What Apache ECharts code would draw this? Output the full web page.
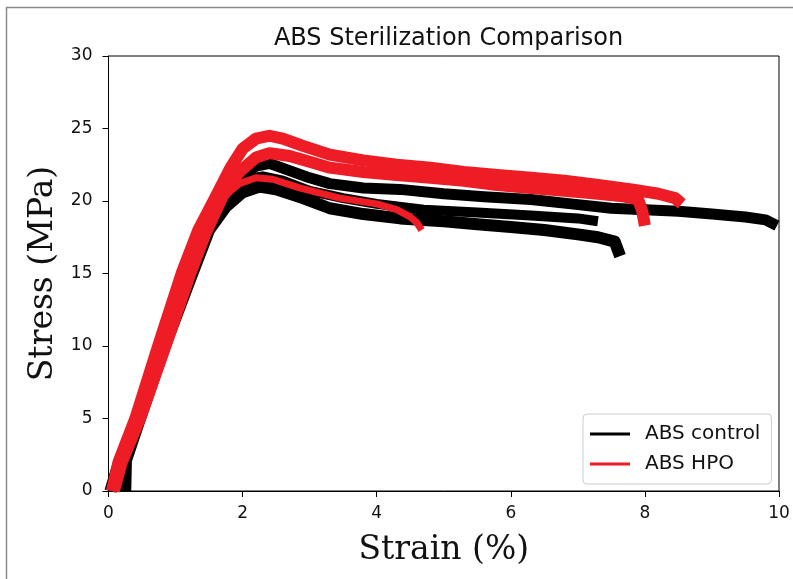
<!DOCTYPE html>
<html>
<head>
<meta charset="utf-8">
<script src="https://cdn.jsdelivr.net/npm/echarts@6/dist/echarts.min.js"></script>
<style>
html,body{margin:0;padding:0;background:#fff;}
#chart{width:793px;height:579px;}
</style>
</head>
<body>
<div id="chart"></div>
<script>
// Axis ticks
const xTicks = [0, 2, 4, 6, 8, 10];
const yTicks = [0, 5, 10, 15, 20, 25, 30];

// ABS control specimens: [strain %, stress MPa]
const controlA = [[0.02,0],[0.15,2],[0.43,5],[0.78,10],[1.2,15],[1.45,17.8],[1.7,20.0],[1.95,21.6],[2.2,22.4],[2.4,22.6],[2.7,22.1],[3.0,21.6],[3.3,21.2],[3.8,20.9],[4.35,20.8],[5.0,20.5],[5.6,20.3],[6.3,20.1],[6.9,19.8],[7.5,19.5],[8.0,19.4],[8.5,19.3],[9.0,19.1],[9.5,18.9],[9.8,18.7],[9.97,18.3]];
const controlB = [[0.25,0],[0.26,2.1],[0.47,5],[0.84,10],[1.25,15],[1.5,18.0],[1.75,19.6],[2.0,20.6],[2.25,21.0],[2.5,20.8],[2.9,20.2],[3.3,19.5],[3.8,19.1],[4.35,18.8],[5.0,18.6],[5.5,18.4],[6.0,18.2],[6.5,18.0],[7.0,17.7],[7.3,17.5],[7.55,17.2],[7.63,16.2]];
const controlC = [[0.05,0],[0.2,2],[0.44,5],[0.8,10],[1.22,15],[1.5,18.2],[1.8,20.6],[2.05,21.5],[2.3,21.7],[2.6,21.4],[3.0,20.7],[3.5,20.2],[4.0,19.8],[4.7,19.4],[5.5,19.2],[6.3,19.0],[7.0,18.8],[7.3,18.6]];

// ABS HPO specimens
const hpoA = [[0.05,0],[0.15,2],[0.40,5],[0.74,10],[1.09,15],[1.34,18],[1.6,20.3],[1.82,22.3],[2.0,23.6],[2.2,24.3],[2.4,24.5],[2.6,24.3],[2.9,23.8],[3.3,23.2],[3.8,22.8],[4.3,22.5],[4.8,22.3],[5.3,22.0],[5.8,21.8],[6.3,21.6],[6.8,21.4],[7.3,21.1],[7.8,20.8],[8.2,20.5],[8.45,20.2],[8.55,19.8]];
const hpoB = [[0.08,0],[0.2,2],[0.47,5],[0.85,10],[1.22,15],[1.45,17.8],[1.7,20.3],[1.95,22.0],[2.2,23.0],[2.4,23.3],[2.7,23.1],[3.0,22.7],[3.3,22.3],[3.8,22.0],[4.3,21.8],[4.8,21.6],[5.3,21.4],[5.8,21.1],[6.3,20.9],[6.8,20.7],[7.3,20.5],[7.7,20.3],[7.9,20.1],[7.96,19.3],[8.0,18.3]];
const hpoC = [[0.05,0],[0.18,2],[0.44,5],[0.8,10],[1.17,15],[1.45,18.2],[1.7,20.2],[1.95,21.2],[2.2,21.6],[2.45,21.5],[2.85,20.9],[3.45,20.2],[4.0,19.8],[4.3,19.4],[4.5,18.9],[4.6,18.5],[4.67,18.0]];

const BLACK = '#000000';
const RED = '#ee1c24';
const sans = 'DejaVu Sans';
const serif = 'DejaVu Serif';

function mk(name, data, color, width) {
  return {
    name: name, type: 'line', data: data, symbol: 'none', showSymbol: false,
    clip: true, animation: false, silent: true,
    lineStyle: { color: color, width: width, join: 'round' },
    itemStyle: { color: color }
  };
}

const chart = echarts.init(document.getElementById('chart'), null, { renderer: 'canvas' });
chart.setOption({
  animation: false,
  backgroundColor: '#ffffff',
  title: {
    text: 'ABS Sterilization Comparison',
    left: 443.5, top: 22, textAlign: 'center',
    textStyle: { fontFamily: sans, fontSize: 24, fontWeight: 'normal', color: '#111' }
  },
  grid: { left: 108.5, right: 14, top: 56, bottom: 88, show: true, borderColor: '#000', borderWidth: 1, backgroundColor: 'transparent' },
  legend: {
    data: [
      { name: 'ABS control', icon: 'rect', itemStyle: { color: BLACK } },
      { name: 'ABS HPO', icon: 'rect', itemStyle: { color: RED } }
    ],
    orient: 'vertical', left: 583, top: 414,
    itemWidth: 40, itemHeight: 3, itemGap: 10,
    padding: [10, 11, 10, 7],
    backgroundColor: '#ffffff', borderColor: '#cccccc', borderWidth: 1, borderRadius: 4,
    textStyle: { fontFamily: sans, fontSize: 20, color: '#111', padding: [0, 0, 0, 10] }
  },
  xAxis: {
    type: 'value', min: 0, max: 10, interval: 2,
    name: 'Strain (%)', nameLocation: 'middle', nameGap: 43,
    nameTextStyle: { fontFamily: serif, fontSize: 33, color: '#111' },
    axisLine: { show: true, lineStyle: { color: '#000', width: 1 } },
    axisTick: { show: true, inside: false, length: 6, lineStyle: { color: '#000' } },
    axisLabel: { fontFamily: sans, fontSize: 17, color: '#111', margin: 14,
      formatter: function (v) { return xTicks.indexOf(v) >= 0 ? String(v) : ''; } },
    splitLine: { show: false }
  },
  yAxis: {
    type: 'value', min: 0, max: 30, interval: 5,
    name: 'Stress (MPa)', nameLocation: 'middle', nameGap: 49, nameRotate: 90,
    nameTextStyle: { fontFamily: serif, fontSize: 33, color: '#111' },
    axisLine: { show: true, lineStyle: { color: '#000', width: 1 } },
    axisTick: { show: true, inside: false, length: 6, lineStyle: { color: '#000' } },
    axisLabel: { fontFamily: sans, fontSize: 17, color: '#111', margin: 16,
      formatter: function (v) { return yTicks.indexOf(v) >= 0 ? String(v) : ''; } },
    splitLine: { show: false }
  },
  graphic: [
    { type: 'line', shape: { x1: 6, y1: 7.5, x2: 793, y2: 7.5 }, style: { stroke: '#8a8a8a', lineWidth: 1.5 }, silent: true },
    { type: 'line', shape: { x1: 6.5, y1: 7, x2: 6.5, y2: 579 }, style: { stroke: '#8a8a8a', lineWidth: 1.5 }, silent: true }
  ],
  series: [
    mk('ABS control', controlA, BLACK, 11),
    mk('ABS control', controlB, BLACK, 12),
    mk('ABS control', controlC, BLACK, 10),
    mk('ABS HPO', hpoA, RED, 12),
    mk('ABS HPO', hpoB, RED, 12),
    mk('ABS HPO', hpoC, RED, 7)
  ]
});
</script>
</body>
</html>
